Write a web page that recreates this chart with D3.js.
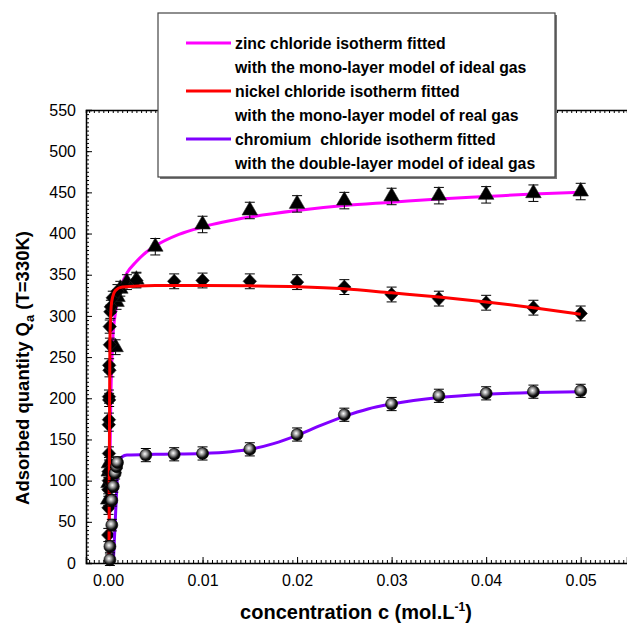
<!DOCTYPE html>
<html>
<head>
<meta charset="utf-8">
<script src="https://cdn.jsdelivr.net/npm/d3@7"></script>
<style>
  body { margin: 0; background: #fff; }
  svg { display: block; font-family: Arial, "Liberation Sans", sans-serif; }
</style>
</head>
<body>
<svg id="chart" width="627" height="627"></svg>
<script>
// ---- measured points (concentration mol/L, adsorbed quantity) ----
const zincC = [0.00002, 0.00005, 0.00008, 0.0001, 0.0008, 0.0009, 0.001, 0.0013, 0.002, 0.003,
  0.005, 0.01, 0.015, 0.02, 0.025, 0.03, 0.035, 0.04, 0.045, 0.05];
const zincQ = [77, 97, 111, 121, 262, 317, 323, 333, 341, 344,
  384, 411, 428, 436, 440, 445, 446, 447, 449, 451];
const zincErr = [7, 7, 7, 7, 9, 9, 9, 9, 9, 9, 10, 10, 10, 10, 10, 10, 10, 10, 10, 10];

const nickelC = [0.00003, 0.00005, 0.00004, 0.00008, 0.00006, 0.0001, 0.00008, 0.0001, 0.00012, 0.0001,
  0.00015, 0.00012, 0.0002, 0.00018, 0.00025, 0.0003, 0.0005, 0.001, 0.003, 0.007,
  0.01, 0.015, 0.02, 0.025, 0.03, 0.035, 0.04, 0.045, 0.05];
const nickelQ = [34, 67, 89, 100, 111, 133, 168, 174, 198, 202,
  234, 240, 265, 287, 305, 311, 322, 330, 343, 342,
  343, 342, 341, 335, 326, 321, 316, 310, 303];
const nickelErr = [8, 8, 8, 8, 8, 8, 8, 8, 8, 8, 8, 8, 8, 8, 8, 8, 8, 8, 9, 9, 9, 9, 9, 9, 9, 9, 9, 9, 9];

const chromC = [0.0002, 0.0002, 0.0004, 0.0004, 0.00056, 0.00075, 0.0009, 0.001, 0.004, 0.007,
  0.01, 0.015, 0.02, 0.025, 0.03, 0.035, 0.04, 0.045, 0.05];
const chromQ = [4, 20, 46, 76, 93, 109, 117, 122, 131, 132,
  133, 138, 156, 180, 193, 203, 206, 208, 209];
const chromErr = [7, 7, 7, 7, 7, 7, 7, 7, 8, 8, 8, 8, 8, 8, 8, 8, 8, 8, 8];

// ---- fitted curves ----
const zincFitC = [0.00012, 0.0002, 0.0003, 0.0005, 0.0008, 0.001, 0.0015, 0.002, 0.003, 0.004, 0.005,
  0.0075, 0.01, 0.015, 0.02, 0.025, 0.03, 0.035, 0.04, 0.045, 0.05];
const zincFitQ = [0, 120, 200, 270, 305, 320, 340, 352, 366, 377, 385,
  399, 408, 420, 428, 434, 438, 442, 445, 448, 450];

const nickelFitC = [0.0001, 0.00015, 0.0002, 0.0003, 0.0004, 0.0008, 0.0015, 0.005, 0.01, 0.015,
  0.02, 0.025, 0.03, 0.035, 0.04, 0.045, 0.05];
const nickelFitQ = [0, 150, 270, 305, 318, 331, 335, 337, 337, 336.5,
  335.5, 333, 328, 323, 317, 310, 302];

const chromFitC = [0.00056, 0.0008, 0.0011, 0.0015, 0.002, 0.005, 0.01, 0.013, 0.015, 0.0175,
  0.02, 0.0225, 0.025, 0.0275, 0.03, 0.035, 0.04, 0.045, 0.05];
const chromFitQ = [0, 60, 122, 129, 131, 132, 133, 135, 138, 145,
  155, 167, 178, 187, 193, 201, 205, 207, 208];

// ---- axes ----
const xTicks = [0, 0.01, 0.02, 0.03, 0.04, 0.05];
const yTicks = [0, 50, 100, 150, 200, 250, 300, 350, 400, 450, 500, 550];

const legendLabels = [
  ["zinc chloride isotherm fitted", "with the mono-layer model of ideal gas"],
  ["nickel chloride isotherm fitted", "with the mono-layer model of real gas"],
  ["chromium  chloride isotherm fitted", "with the double-layer model of ideal gas"]
];
const fitColors = ["#ff00ff", "#ff0000", "#8000ff"];

//======================= SCALES =========================
const svg = d3.select("#chart");
const x = d3.scaleLinear().domain([-0.00233, 0.0549]).range([86, 627]);
const y = d3.scaleLinear().domain([0, 550]).range([563, 110]);

const zip = (cs, qs, es) => cs.map((c, i) => ({c: c, q: qs[i], e: es ? es[i] : 0}));

//======================= AXES ===========================
function styleAxis(g) {
  g.selectAll("text").style("font-size", "16px").style("font-family", "Arial, 'Liberation Sans', sans-serif").attr("fill", "#000");
  g.selectAll("line").attr("stroke", "#000").attr("stroke-width", 1);
}

const xMinor = d3.range(-0.002, 0.0549, 0.0005);
const yMinor = d3.range(0, 551, 5);

// bottom
svg.append("g").attr("transform", "translate(0,563)")
  .call(d3.axisBottom(x).tickValues(xMinor).tickSize(-3).tickFormat(""))
  .call(g => g.select(".domain").remove()).call(styleAxis);
svg.append("g").attr("transform", "translate(0,563)")
  .call(d3.axisBottom(x).tickValues(xTicks).tickSize(-6).tickPadding(12).tickFormat(d3.format(".2f")))
  .call(g => g.select(".domain").attr("stroke", "#000").attr("stroke-width", 1.5))
  .call(styleAxis);

// top frame
svg.append("g").attr("transform", "translate(0,110)")
  .call(d3.axisTop(x).tickValues(xMinor).tickSize(-3).tickFormat(""))
  .call(g => g.select(".domain").attr("stroke", "#000").attr("stroke-width", 1.5))
  .call(styleAxis);

// left
svg.append("g").attr("transform", "translate(86,0)")
  .call(d3.axisLeft(y).tickValues(yMinor).tickSize(-3).tickFormat(""))
  .call(g => g.select(".domain").remove()).call(styleAxis);
svg.append("g").attr("transform", "translate(86,0)")
  .call(d3.axisLeft(y).tickValues(yTicks).tickSize(-6).tickPadding(10))
  .call(g => g.select(".domain").attr("stroke", "#000").attr("stroke-width", 1.5))
  .call(styleAxis);

// axis titles
const xt = svg.append("text").attr("x", 356).attr("y", 619).attr("text-anchor", "middle")
  .style("font-size", "20px").style("font-weight", "bold");
xt.append("tspan").text("concentration c (mol.L");
xt.append("tspan").attr("dy", -8).style("font-size", "12px").text("-1");
xt.append("tspan").attr("dy", 8).text(")");

const yt = svg.append("text").attr("transform", "translate(29,368) rotate(-90)").attr("text-anchor", "middle")
  .style("font-size", "18.5px").style("font-weight", "bold");
yt.append("tspan").text("Adsorbed quantity Q");
yt.append("tspan").attr("dy", 5).style("font-size", "13px").text("a");
yt.append("tspan").attr("dy", -5).text(" (T=330K)");

//======================= MARKERS ========================
const defs = svg.append("defs");
const grad = defs.append("radialGradient").attr("id", "ball").attr("cx", "42%").attr("cy", "40%").attr("r", "60%");
grad.append("stop").attr("offset", "0%").attr("stop-color", "#ffffff");
grad.append("stop").attr("offset", "35%").attr("stop-color", "#9a9a9a");
grad.append("stop").attr("offset", "75%").attr("stop-color", "#111");
grad.append("stop").attr("offset", "100%").attr("stop-color", "#000");

const diamond = {
  draw(ctx, size) {
    const h = Math.sqrt(size) / 2, w = h * 0.95;
    ctx.moveTo(0, -h); ctx.lineTo(w, 0); ctx.lineTo(0, h); ctx.lineTo(-w, 0); ctx.closePath();
  }
};

function errorBars(data) {
  const g = svg.append("g").attr("stroke", "#000").attr("stroke-width", 1);
  data.forEach(d => {
    const cx = x(d.c);
    g.append("line").attr("x1", cx).attr("x2", cx).attr("y1", y(d.q - d.e)).attr("y2", y(d.q + d.e));
    [d.q - d.e, d.q + d.e].forEach(v => g.append("line")
      .attr("x1", cx - 5).attr("x2", cx + 5).attr("y1", y(v)).attr("y2", y(v)));
  });
}

const line = d3.line().curve(d3.curveMonotoneX).x(d => x(d.c)).y(d => y(d.q));
function fit(cs, qs, color) {
  svg.append("path").datum(zip(cs, qs)).attr("d", line)
    .attr("fill", "none").attr("stroke", color).attr("stroke-width", 3);
}

const zinc = zip(zincC, zincQ, zincErr);
const nickel = zip(nickelC, nickelQ, nickelErr);
const chrom = zip(chromC, chromQ, chromErr);

fit(zincFitC, zincFitQ, fitColors[0]);

errorBars(zinc);
svg.append("g").selectAll("path").data(zinc).enter().append("path")
  .attr("transform", d => "translate(" + x(d.c) + "," + y(d.q) + ")")
  .attr("d", d3.symbol(d3.symbolTriangle, 105))
  .attr("fill", "#000").attr("stroke", "#222").attr("stroke-width", 0.6);

errorBars(nickel);
svg.append("g").selectAll("path").data(nickel).enter().append("path")
  .attr("transform", d => "translate(" + x(d.c) + "," + y(d.q) + ")")
  .attr("d", d3.symbol(diamond, 200))
  .attr("fill", "#000").attr("stroke", "#222").attr("stroke-width", 0.6);

fit(nickelFitC, nickelFitQ, fitColors[1]);
fit(chromFitC, chromFitQ, fitColors[2]);

errorBars(chrom);
svg.append("g").selectAll("circle").data(chrom).enter().append("circle")
  .attr("cx", d => x(d.c)).attr("cy", d => y(d.q)).attr("r", 6)
  .attr("fill", "url(#ball)").attr("stroke", "#000").attr("stroke-width", 0.6);

//======================= LEGEND =========================
const lg = svg.append("g");
lg.append("rect").attr("x", 160).attr("y", 15).attr("width", 397).attr("height", 164).attr("fill", "#777");
lg.append("rect").attr("x", 158).attr("y", 13).attr("width", 397).attr("height", 164)
  .attr("fill", "#fff").attr("stroke", "#444").attr("stroke-width", 1.2);

legendLabels.forEach((lines, i) => {
  const top = 43 + i * 48;
  lg.append("line").attr("x1", 186).attr("x2", 231).attr("y1", top).attr("y2", top)
    .attr("stroke", fitColors[i]).attr("stroke-width", 3);
  lines.forEach((t, j) => {
    lg.append("text").attr("x", 235).attr("y", top + 5.5 + j * 24)
      .style("font-size", "15.8px").style("font-weight", "bold").style("white-space", "pre").text(t);
  });
});
</script>
</body>
</html>
